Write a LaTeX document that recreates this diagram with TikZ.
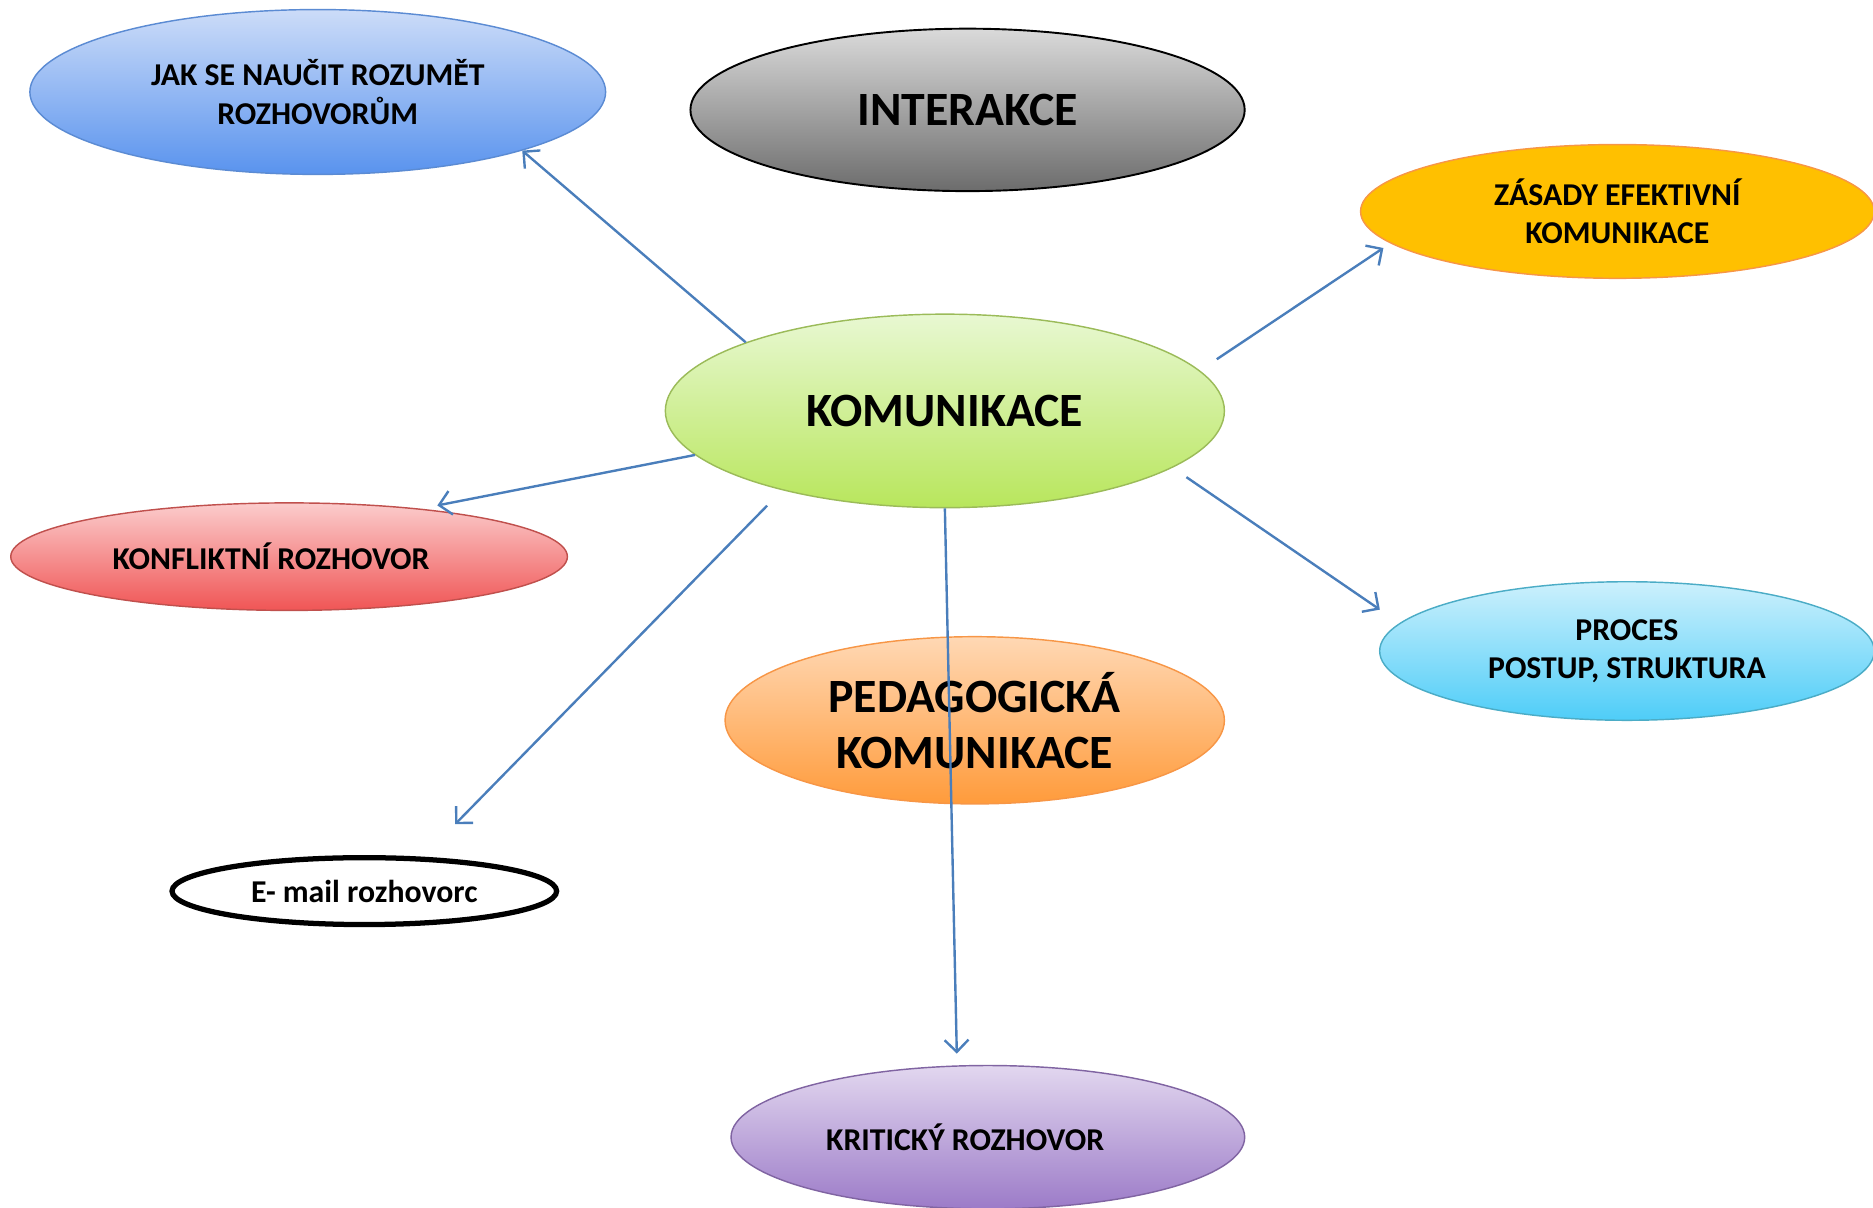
\documentclass[tikz,border=0pt]{standalone}
\usepackage{fontspec}
\setmainfont{Carlito}
\usetikzlibrary{shapes.geometric, arrows.meta}

\definecolor{linkblue}{HTML}{4A7EBB}
\definecolor{jaktop}{HTML}{CCDCF8}
\definecolor{jakbot}{HTML}{5993EE}
\definecolor{jakline}{HTML}{5B8BD3}
\definecolor{intertop}{HTML}{DADADA}
\definecolor{interbot}{HTML}{6C6C6C}
\definecolor{zasfill}{HTML}{FFC000}
\definecolor{zasline}{HTML}{F79646}
\definecolor{komtop}{HTML}{E8F8D2}
\definecolor{kombot}{HTML}{B8E65C}
\definecolor{komline}{HTML}{9BBB59}
\definecolor{konftop}{HTML}{FBCCCC}
\definecolor{konfbot}{HTML}{F05555}
\definecolor{konfline}{HTML}{C0504D}
\definecolor{proctop}{HTML}{CCF0FC}
\definecolor{procbot}{HTML}{4ECDF8}
\definecolor{procline}{HTML}{4BACC6}
\definecolor{pedtop}{HTML}{FFD8B4}
\definecolor{pedbot}{HTML}{FF9B3B}
\definecolor{pedline}{HTML}{F79646}
\definecolor{krittop}{HTML}{E2D7EF}
\definecolor{kritbot}{HTML}{9C7BC8}
\definecolor{kritline}{HTML}{8064A2}

\tikzset{
  bubble/.style={ellipse, inner sep=0pt, align=center, line width=0.6pt,
    font=\bfseries\fontsize{13.3}{16}\selectfont},
  bigbubble/.style={bubble, font=\bfseries\fontsize{20}{23.5}\selectfont},
  link/.style={draw=linkblue, line width=1pt, -{Straight Barb[length=5pt,width=10pt]}},
}

\begin{document}
\begin{tikzpicture}[x=0.5pt, y=-0.5pt]
		\useasboundingbox (0,0) rectangle (1568,1011);
		
		% ellipses
		\node[bubble, draw=jakline, top color=jaktop, bottom color=jakbot,
			minimum width=241pt, minimum height=69pt] (jak) at (266,77)
			{JAK SE NAUČIT ROZUMĚT\\ROZHOVORŮM};
		\node[bigbubble, draw=black, line width=0.8pt, top color=intertop, bottom color=interbot,
			minimum width=232pt, minimum height=68pt] (inter) at (810,92) {INTERAKCE};
		\node[bubble, draw=zasline, fill=zasfill,
			minimum width=215pt, minimum height=56pt] (zas) at (1354,177)
			{ZÁSADY EFEKTIVNÍ\\KOMUNIKACE};
		\node[bigbubble, draw=komline, top color=komtop, bottom color=kombot,
			minimum width=234pt, minimum height=81pt] (kom) at (791,344) {KOMUNIKACE};
		\node[bubble, draw=konfline, top color=konftop, bottom color=konfbot,
			minimum width=233pt, minimum height=45pt] (konf) at (242,466)
			{KONFLIKTNÍ ROZHOVOR\hspace*{15pt}};
		\node[bubble, draw=procline, top color=proctop, bottom color=procbot,
			minimum width=207pt, minimum height=58pt] (proc) at (1362,545)
			{PROCES\\POSTUP, STRUKTURA};
		\node[bigbubble, draw=pedline, top color=pedtop, bottom color=pedbot,
			minimum width=209pt, minimum height=70pt] (ped) at (816,603)
			{PEDAGOGICKÁ\\KOMUNIKACE};
		\node[bubble, draw=black, line width=2.2pt, fill=white,
			minimum width=161pt, minimum height=28pt] (mail) at (305,746) {E- mail rozhovorc};
		\node[bubble, draw=kritline, top color=krittop, bottom color=kritbot,
			minimum width=215pt, minimum height=60pt] (krit) at (827,952)
			{KRITICKÝ ROZHOVOR\hspace*{19pt}};
		
		\coordinate (mailtip) at (381,690);
		\coordinate (krittip) at (801,882);
		
		% arrows
		\draw[link] (kom.161) -- (jak.344);
		\draw[link, shorten <=8.5pt, shorten >=3.5pt] (kom.9) -- (zas.188);
		\draw[link, shorten >=7pt] (kom.190) -- (konf.20);
		\draw[link, shorten <=9pt] (kom.206) -- (mailtip);
		\draw[link] (kom.south) -- (krittip);
		\draw[link, shorten <=7pt, shorten >=10pt] (kom.346) -- (proc.173);
	\end{tikzpicture}
\end{document}
